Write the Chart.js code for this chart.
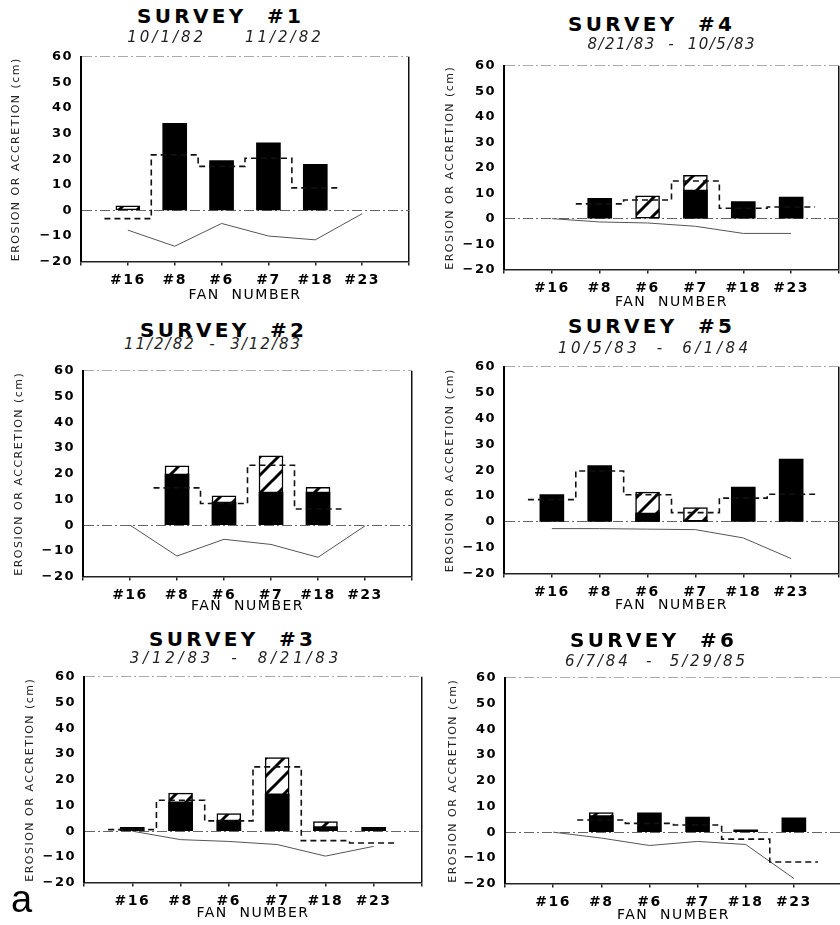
<!DOCTYPE html>
<html><head><meta charset="utf-8">
<script src="https://cdn.jsdelivr.net/npm/chart.js@4.4.1/dist/chart.umd.min.js"></script>
<style>
html,body{margin:0;padding:0;background:#fff;}
#wrap{position:relative;width:840px;height:925px;overflow:hidden;background:#fff;}
canvas{position:absolute;}
.t{position:absolute;width:340px;text-align:center;font-family:"DejaVu Sans";font-weight:bold;font-size:20px;line-height:24px;color:#000;white-space:pre;letter-spacing:3.3px;}
.s{position:absolute;width:340px;text-align:center;font-family:"DejaVu Sans";font-style:italic;font-size:15px;line-height:18px;color:#222;white-space:pre;}
.a{position:absolute;left:11px;top:880px;font-family:"Liberation Sans";font-size:38px;line-height:38px;color:#000;}
</style></head><body><div id="wrap"></div>
<script>
// ---------- data ----------
const categories = ['#16', '#8', '#6', '#7', '#18', '#23'];
const surveyTitles = ['SURVEY  #1', 'SURVEY  #2', 'SURVEY  #3', 'SURVEY  #4', 'SURVEY  #5', 'SURVEY  #6'];
const surveyDates = ['10/1/82     11/2/82', '11/2/82  -  3/12/83', '3/12/83  -  8/21/83',
                     '8/21/83  -  10/5/83', '10/5/83  -  6/1/84', '6/7/84  -  5/29/85'];

// black (net) bars
const s1Net = [null, 34, 19.5, 26.4, 18, null];
const s2Net = [null, 19.9, 9, 12.9, 12.9, null];
const s3Net = [1.5, 11.4, 4.3, 14.5, 1.8, 1.5];
const s4Net = [null, 8.0, null, 11.2, 6.7, 8.5];
const s5Net = [10.6, 21.8, 3.4, 0.6, 13.5, 24.3];
const s6Net = [null, 6.4, 7.5, 5.9, 0.9, 5.6];
// hatched tops (total height)
const s1Cap = [1.8, null, null, null, null, null];
const s2Cap = [null, 23.1, 11.4, 26.9, 14.7, null];
const s3Cap = [null, 14.8, 6.8, 28.6, 3.7, null];
const s4Cap = [null, null, 9.0, 17, null, null];
const s5Cap = [null, null, 11.5, 5.5, null, null];
const s6Cap = [null, 7.6, null, null, null, null];
// dashed step line
const s1Step = [-3.2, 21.7, 17.2, 20.4, 8.8, null];
const s2Step = [null, 14.5, 8.4, 23.3, 6.3, null];
const s3Step = [0.6, 12, 4, 25, -3.7, -4.6];
const s4Step = [null, 5.8, 7.3, 14.8, 4.1, 4.6];
const s5Step = [8.6, 19.7, 10.5, 3.6, 9.2, 10.7];
const s6Step = [null, 4.7, 3.4, 2.8, -2.7, -11.6];
// thin erosion line
const s1Ero = [-7.7, -14, -5.1, -10, -11.5, -1.3];
const s2Ero = [0, -12, -5.5, -7.5, -12.5, -0.3];
const s3Ero = [0, -3.3, -4, -5.2, -9.7, -5.9];
const s4Ero = [0, -1.3, -1.7, -3, -5.8, -5.8];
const s5Ero = [-2.6, -2.6, -2.8, -3, -6.2, -14.2];
const s6Ero = [0, -2.3, -5.2, -3.6, -4.8, -18];

const seriesNet = [s1Net, s2Net, s3Net, s4Net, s5Net, s6Net];
const seriesCap = [s1Cap, s2Cap, s3Cap, s4Cap, s5Cap, s6Cap];
const seriesStep = [s1Step, s2Step, s3Step, s4Step, s5Step, s6Step];
const seriesEro = [s1Ero, s2Ero, s3Ero, s4Ero, s5Ero, s6Ero];

// ---------- layout (pixels) ----------
const layoutPanels = [
  {axisX:81,  yTop:53,  yBot:261, xRight:413, fanY:295, yTitleDist:65, tx:219, ty:15.5, sx:224, sy:37,  sls:3},
  {axisX:83,  yTop:367, yBot:576, xRight:416, fanY:606, yTitleDist:64, tx:222, ty:329.5, sx:212, sy:344, sls:2},
  {axisX:84,  yTop:673, yBot:882, xRight:426, fanY:913, yTitleDist:54, tx:231, ty:638.5, sx:234, sy:657.5, sls:3.8},
  {axisX:504, yTop:62,  yBot:269, xRight:843, fanY:302, yTitleDist:54, tx:650, ty:23.5, sx:671, sy:43.5, sls:1.5},
  {axisX:504, yTop:363, yBot:573, xRight:843, fanY:605, yTitleDist:54, tx:650, ty:325.5, sx:653, sy:347.5, sls:3.5},
  {axisX:505, yTop:674, yBot:883, xRight:846, fanY:915, yTitleDist:52, tx:652, ty:640, sx:655, sy:661, sls:2.9}
];

const wrap = document.getElementById('wrap');
const spacingPlugin = {
  id: 'spacing',
  beforeUpdate(c) { c.ctx.letterSpacing = '1.5px'; },
  beforeDraw(c) { c.ctx.letterSpacing = '1.5px'; }
};

function makeHatch(ctx) {
  const n = 18;
  const c = document.createElement('canvas'); c.width = n; c.height = n;
  const g = c.getContext('2d');
  g.fillStyle = '#fff'; g.fillRect(0, 0, n, n);
  g.strokeStyle = '#000'; g.lineWidth = 3;
  [[-n, 0], [0, 0], [n, 0]].forEach(([o]) => {
    g.beginPath(); g.moveTo(o - 2, n + 2); g.lineTo(o + n + 2, -2); g.stroke();
  });
  return ctx.createPattern(c, 'repeat');
}
function fmtY(v) { return v < 0 ? '\u2212' + Math.abs(v) : String(v); }
function barPts(arr) { return arr.map((v, i) => v == null ? null : {x: i, y: v}).filter(Boolean); }
function linePts(arr) { return arr.map((v, i) => v == null ? null : {x: i, y: v}).filter(Boolean); }
function stepPts(arr) {
  const out = []; let last = null;
  arr.forEach((v, i) => { if (v != null) { out.push({x: i - 0.5, y: v}); last = i; } });
  if (last != null) out.push({x: last + 0.5, y: arr[last]});
  return out;
}

function addText(cls, text, cx, cy, lh, extra) {
  const d = document.createElement('div');
  d.className = cls; d.textContent = text;
  d.style.left = (cx - 170) + 'px';
  d.style.top = (cy - lh / 2) + 'px';
  if (extra) Object.assign(d.style, extra);
  wrap.appendChild(d);
}

layoutPanels.forEach((p, k) => {
  const Y_W = 81, PAD_T = 12, PAD_R = 2;
  const L = p.axisX - Y_W, T = p.yTop - PAD_T;
  const W = p.xRight + PAD_R - L;
  const xH = p.fanY + 8.4 - p.yBot;
  const H = Math.ceil(p.yBot + xH - T);
  const cv = document.createElement('canvas');
  cv.width = W; cv.height = H;
  cv.style.left = L + 'px'; cv.style.top = T + 'px';
  cv.style.width = W + 'px'; cv.style.height = H + 'px';
  wrap.appendChild(cv);
  addText('t', surveyTitles[k], p.tx + 1.6, p.ty, 24);
  addText('s', surveyDates[k], p.sx + p.sls / 2, p.sy, 18, {letterSpacing: p.sls + 'px'});

  const ctx = cv.getContext('2d');
  const hatch = makeHatch(ctx);
  new Chart(cv, {
    type: 'bar',
    data: {
      datasets: [
        {type: 'line', data: stepPts(seriesStep[k]), borderColor: '#111', borderWidth: 1.6,
         borderDash: [6, 4], stepped: 'before', pointRadius: 0, fill: false},
        {type: 'line', data: linePts(seriesEro[k]), borderColor: '#555', borderWidth: 1,
         pointRadius: 0, fill: false, tension: 0},
        {type: 'bar', data: barPts(seriesNet[k]), backgroundColor: '#000', borderWidth: 0,
         barThickness: 24, grouped: false},
        {type: 'bar', data: barPts(seriesCap[k]), backgroundColor: hatch, borderColor: '#000',
         borderWidth: 1.5, borderSkipped: false, barThickness: 24, grouped: false}
      ]
    },
    options: {
      responsive: false, animation: false, devicePixelRatio: 1,
      layout: {padding: {top: PAD_T, right: PAD_R, left: 0, bottom: 0}},
      plugins: {legend: {display: false}, tooltip: {enabled: false}},
      scales: {
        x: {
          type: 'linear', min: -1, max: 6, offset: false,
          afterFit(s) { s.height = xH; },
          ticks: {stepSize: 1, autoSkip: false, maxRotation: 0, padding: 6, color: '#000',
                  font: {family: 'DejaVu Sans', weight: 'bold', size: 14},
                  callback: v => categories[v] ?? ''},
          grid: {offset: false, drawOnChartArea: true,
                 color: c => (c.tick && c.tick.value === 6) ? '#111' : 'rgba(0,0,0,0)',
                 lineWidth: 1.5, tickLength: 4, tickColor: '#222', tickWidth: 1.5},
          border: {display: true, color: '#222', width: 1.5},
          title: {display: true, text: 'FAN  NUMBER', color: '#000',
                  font: {family: 'DejaVu Sans', size: 14}, padding: 0}
        },
        y: {
          min: -20, max: 60,
          afterFit(s) { s.width = Y_W; },
          ticks: {stepSize: 10, padding: 8, color: '#000',
                  font: {family: 'DejaVu Sans', weight: 'bold', size: 13}, callback: fmtY},
          grid: {drawTicks: false,
                 color: c => c.tick && c.tick.value === 0 ? '#666' : (c.tick && c.tick.value === 60 ? '#aaa' : 'rgba(0,0,0,0)'),
                 lineWidth: 1},
          border: {display: true, color: '#000', width: 2, dash: [10, 3, 2, 3]},
          title: {display: true, text: 'EROSION OR ACCRETION (cm)', color: '#222',
                  font: {family: 'DejaVu Sans', size: 11},
                  padding: {top: 74.4 - p.yTitleDist, bottom: 0}}
        }
      }
    },
    plugins: [spacingPlugin]
  });
});

const a = document.createElement('div'); a.className = 'a'; a.textContent = 'a'; wrap.appendChild(a);
</script>
</body></html>
